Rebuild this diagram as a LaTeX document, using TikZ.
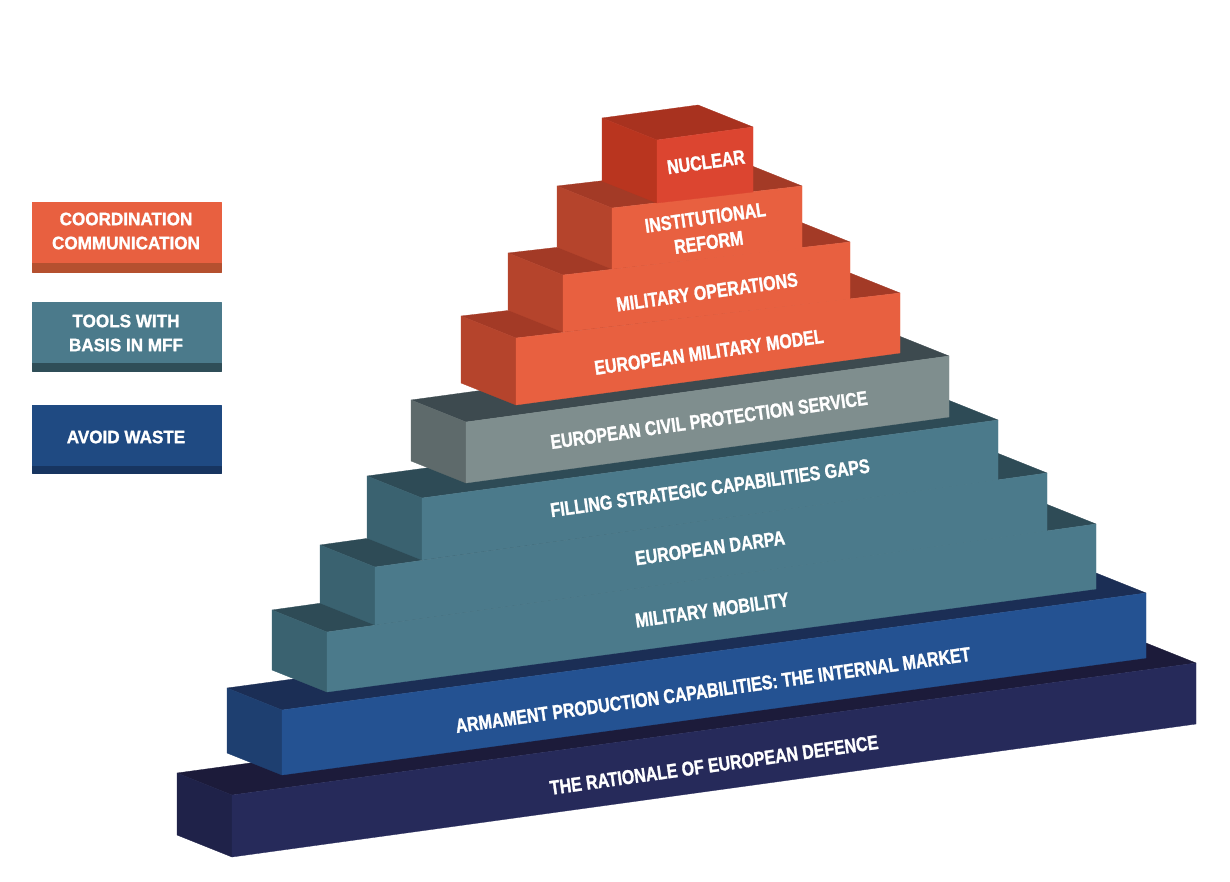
\documentclass[tikz,border=0pt]{standalone}
\usepackage{fontspec}
\newfontfamily\pyrfont[FakeStretch=0.8,FakeBold=1.3]{Liberation Sans}
\newfontfamily\keyfont[FakeStretch=0.95,FakeBold=1.3]{Liberation Sans}

\definecolor{navyF}{HTML}{262A5A}
\definecolor{navyS}{HTML}{1F2249}
\definecolor{navyT}{HTML}{1C1B3A}
\definecolor{blueF}{HTML}{245292}
\definecolor{blueS}{HTML}{1E3F70}
\definecolor{blueT}{HTML}{1B2E55}
\definecolor{tealF}{HTML}{4B7A8B}
\definecolor{tealS}{HTML}{3A6270}
\definecolor{tealT}{HTML}{2E4B56}
\definecolor{greyF}{HTML}{7F8E8E}
\definecolor{greyS}{HTML}{5E6A6B}
\definecolor{greyT}{HTML}{3D4A4F}
\definecolor{redF}{HTML}{E86040}
\definecolor{redS}{HTML}{B5442C}
\definecolor{redT}{HTML}{A33A26}
\definecolor{nucF}{HTML}{DC4530}
\definecolor{nucS}{HTML}{B9351F}
\definecolor{nucT}{HTML}{A8321F}
\definecolor{keyredB}{HTML}{B5502F}
\definecolor{keytealB}{HTML}{2F4E58}
\definecolor{keynavyF}{HTML}{1F4A82}
\definecolor{keynavyB}{HTML}{173560}

\tikzset{
  face/.style={fill=#1, draw=#1, line width=0.3pt, line join=round},
  steptext/.style={text=white, align=center, rotate=8,
    font=\pyrfont\bfseries\fontsize{20}{25}\selectfont},
  keytext/.style={text=white, align=center,
    font=\keyfont\bfseries\fontsize{18}{24}\selectfont}
}

% depth of every slab, towards the back left
\newcommand{\dpx}{-55}
\newcommand{\dpy}{-22}
% \slab{left}{right}{y bottom left}{y bottom right}{y top left}{y top right}{colour}
\newcommand{\slab}[7]{%
  \fill[face=#7T] (#1,#5) -- (#2,#6) -- ++(\dpx,\dpy) -- ++(#1-#2,#5-#6) -- cycle;
  \fill[face=#7S] (#1,#3) -- (#1,#5) -- ++(\dpx,\dpy) -- ++(0,#3-#5) -- cycle;
  \fill[face=#7F] (#1,#3) -- (#2,#4) -- (#2,#6) -- (#1,#5) -- cycle;
}

\begin{document}
\begin{tikzpicture}[x=1pt,y=-1pt]
  \useasboundingbox (0,0) rectangle (1230,882);

  % key
  \fill[face=redF] (32,202) rectangle (221,263);
  \fill[face=keyredB] (32,263) rectangle (221,272);
  \fill[face=tealF] (32,302) rectangle (221,363);
  \fill[face=keytealB] (32,363) rectangle (221,371);
  \fill[face=keynavyF] (32,405) rectangle (221,466);
  \fill[face=keynavyB] (32,466) rectangle (221,473);
  \node[keytext] (coord) at (126,231) {COORDINATION\\COMMUNICATION};
  \node[keytext] (tools) at (126,333) {TOOLS WITH\\BASIS IN MFF};
  \node[keytext] (waste) at (126,437) {AVOID WASTE};

  % pyramid, from the base up
  \slab{232}{1196}{857}{724}{795}{663}{navy}
  \slab{282}{1146}{775}{658}{710}{593}{blue}
  \slab{327}{1096}{692}{589}{632}{524}{teal}
  \slab{375}{1047}{625}{531}{567}{473}{teal}
  \slab{422}{998}{560}{480}{498}{420}{teal}
  \slab{466}{949}{483}{417}{422}{356}{grey}
  \slab{516}{900}{405}{353}{338}{293}{red}
  \slab{563}{850}{332}{299}{275}{242}{red}
  \slab{612}{802}{269}{248}{208}{186}{red}
  \slab{657}{753}{203}{192}{140}{127}{nuc}

  \node[steptext] (nuclear) at (706,162) {NUCLEAR};
  \node[steptext] (reform) at (707,230) {INSTITUTIONAL\\REFORM};
  \node[steptext] (operations) at (707,292) {MILITARY OPERATIONS};
  \node[steptext] (model) at (709,352) {EUROPEAN MILITARY MODEL};
  \node[steptext] (civil) at (709,420) {EUROPEAN CIVIL PROTECTION SERVICE};
  \node[steptext] (gaps) at (710,488) {FILLING STRATEGIC CAPABILITIES GAPS};
  \node[steptext] (darpa) at (710,548) {EUROPEAN DARPA};
  \node[steptext] (mobility) at (712,610) {MILITARY MOBILITY};
  \node[steptext] (market) at (713,690) {ARMAMENT PRODUCTION CAPABILITIES: THE INTERNAL MARKET};
  \node[steptext] (rationale) at (714,765) {THE RATIONALE OF EUROPEAN DEFENCE};
\end{tikzpicture}
\end{document}
